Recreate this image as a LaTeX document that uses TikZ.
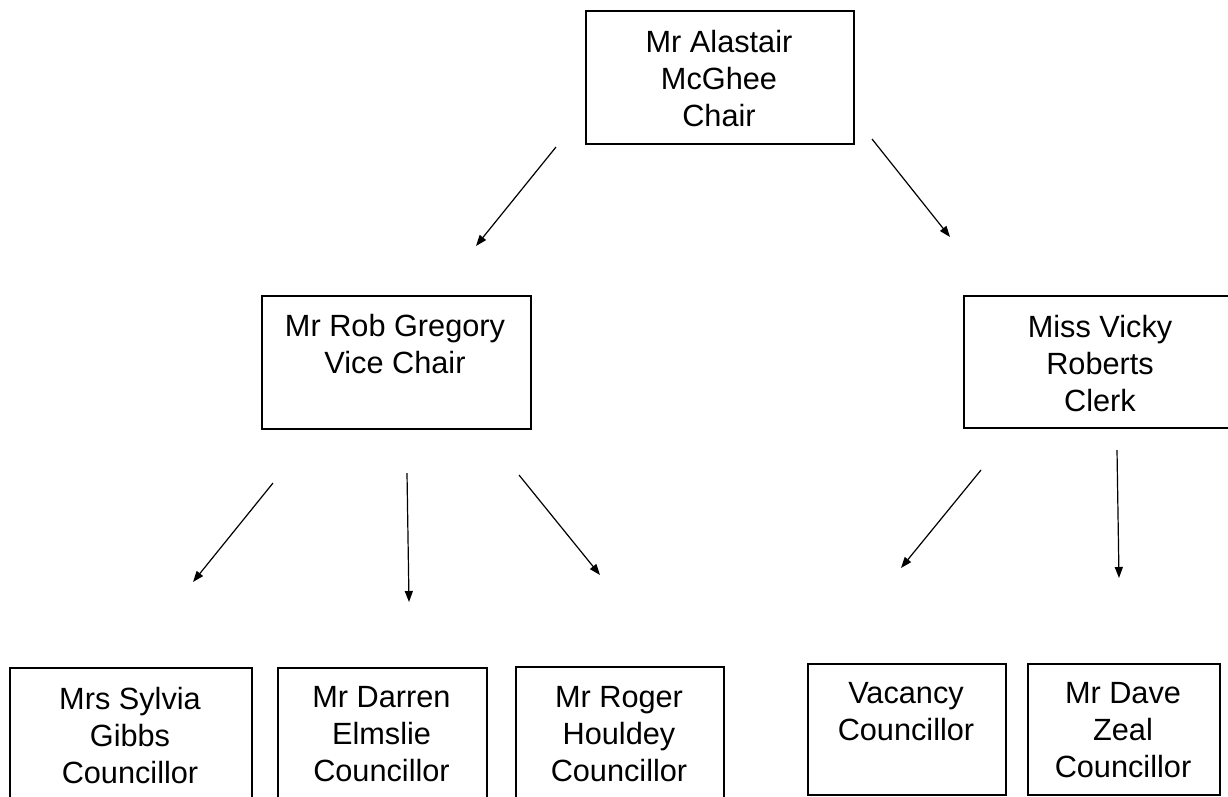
\documentclass[tikz,border=0pt]{standalone}
\usepackage{fontspec}
\setmainfont{Liberation Sans}
\usetikzlibrary{arrows.meta}
\begin{document}
\begin{tikzpicture}[x=1pt,y=-1pt,
  box/.style={draw=black, line width=1.5pt, inner sep=0pt, anchor=north west},
  lbl/.style={align=center, anchor=base, inner sep=0pt, font=\fontsize{30.7}{37}\selectfont},
  conn/.style={line width=1.2pt, -{Triangle[length=11pt,width=8pt]}}]
\useasboundingbox (0,0) rectangle (1228,796);
\begin{scope}
\clip (0,0) rectangle (1228,796);
% boxes
\node[box, minimum width=268pt, minimum height=133pt] (chair) at (585,10) {};
\node[box, minimum width=269pt, minimum height=133pt] (rob) at (261,295) {};
\node[box, minimum width=274pt, minimum height=132pt] (vicky) at (963,295) {};
\node[box, minimum width=242pt, minimum height=150pt] (sylvia) at (9,667) {};
\node[box, minimum width=209pt, minimum height=150pt] (darren) at (277,667) {};
\node[box, minimum width=208pt, minimum height=150pt] (roger) at (515,666) {};
\node[box, minimum width=198pt, minimum height=131pt] (vacancy) at (807,663) {};
\node[box, minimum width=192pt, minimum height=131pt] (dave) at (1027,663) {};
\end{scope}
% labels (anchor = baseline of last line)
\node[lbl] (chairT) at (719,126) {Mr Alastair\\McGhee\\Chair};
\node[lbl] (robT) at (395,373) {Mr Rob Gregory\\Vice Chair};
\node[lbl] (vickyT) at (1100,411) {Miss Vicky\\Roberts\\Clerk};
\node[lbl] (sylviaT) at (130,783) {Mrs Sylvia\\Gibbs\\Councillor};
\node[lbl] (darrenT) at (381.5,781) {Mr Darren\\Elmslie\\Councillor};
\node[lbl] (rogerT) at (619,781) {Mr Roger\\Houldey\\Councillor};
\node[lbl] (vacancyT) at (906,740) {Vacancy\\Councillor};
\node[lbl] (daveT) at (1123,777) {Mr Dave\\Zeal\\Councillor};
% arrow end points
\coordinate (a1s) at (556,147); \coordinate (a1e) at (476,246);
\coordinate (a2s) at (872,139); \coordinate (a2e) at (950,237);
\coordinate (a3s) at (273,483); \coordinate (a3e) at (193,582);
\coordinate (a4s) at (407,473); \coordinate (a4e) at (409,602);
\coordinate (a5s) at (519,475); \coordinate (a5e) at (600,575);
\coordinate (a6s) at (981,470); \coordinate (a6e) at (901,568);
\coordinate (a7s) at (1117,450); \coordinate (a7e) at (1119,578);
\draw[conn] (a1s) -- (a1e);
\draw[conn] (a2s) -- (a2e);
\draw[conn] (a3s) -- (a3e);
\draw[conn] (a4s) -- (a4e);
\draw[conn] (a5s) -- (a5e);
\draw[conn] (a6s) -- (a6e);
\draw[conn] (a7s) -- (a7e);
\end{tikzpicture}
\end{document}
